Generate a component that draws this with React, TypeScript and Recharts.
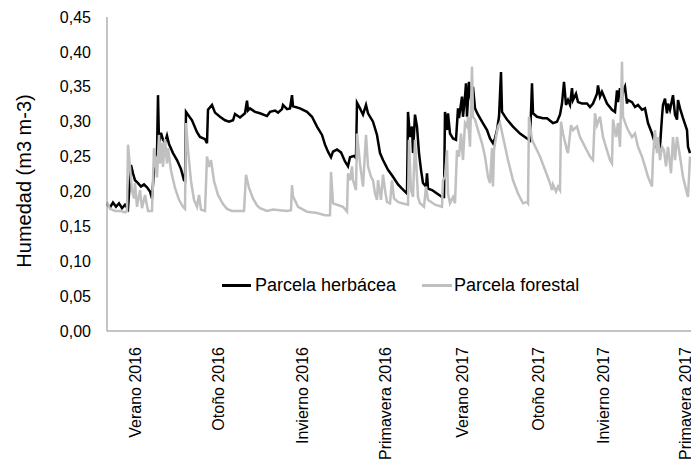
import React from 'react';
import { LineChart, Line, XAxis, YAxis, Legend } from 'recharts';

// [día desde el inicio, humedad m3/m3]
const herbacea: [number, number][] = [
  [0, 0.182], [3, 0.177], [6, 0.184], [9, 0.178], [12, 0.183], [15, 0.176], [18, 0.181], [21, 0.175],
  [24, 0.238], [26, 0.226], [28, 0.216], [31, 0.212], [34, 0.207], [37, 0.21], [40, 0.206], [43, 0.2],
  [45, 0.19], [48, 0.25], [50, 0.255], [51, 0.338], [52, 0.27], [54, 0.284], [56, 0.274], [58, 0.27],
  [60, 0.28], [62, 0.268], [66, 0.255], [70, 0.245], [74, 0.232], [77, 0.216], [78, 0.215], [79, 0.314],
  [85, 0.302], [90, 0.285], [93, 0.278], [98, 0.275], [100, 0.269], [101, 0.317], [105, 0.324], [108, 0.313],
  [113, 0.307], [118, 0.302], [122, 0.3], [126, 0.302], [128, 0.311], [133, 0.306], [138, 0.312], [140, 0.33],
  [141, 0.316], [143, 0.319], [148, 0.314], [153, 0.312], [160, 0.308], [163, 0.314], [168, 0.316], [171, 0.313],
  [175, 0.318], [176, 0.324], [180, 0.318], [183, 0.319], [185, 0.338], [186, 0.322], [193, 0.319], [200, 0.314],
  [205, 0.307], [210, 0.293], [215, 0.281], [218, 0.267], [221, 0.257], [224, 0.249], [226, 0.257], [230, 0.26],
  [234, 0.256], [238, 0.243], [241, 0.236], [243, 0.249], [247, 0.251], [249, 0.248], [250, 0.327], [253, 0.319],
  [256, 0.31], [259, 0.324], [261, 0.312], [266, 0.3], [270, 0.281], [273, 0.255], [276, 0.245], [281, 0.231],
  [286, 0.221], [291, 0.21], [295, 0.204], [300, 0.197], [301, 0.314], [303, 0.278], [305, 0.293], [306, 0.255],
  [308, 0.31], [310, 0.293], [312, 0.255], [314, 0.231], [316, 0.212], [319, 0.207], [320, 0.226], [321, 0.204],
  [325, 0.202], [330, 0.197], [335, 0.192], [337, 0.192], [338, 0.314], [340, 0.288], [341, 0.312], [343, 0.283],
  [346, 0.276], [349, 0.274], [351, 0.319], [352, 0.305], [355, 0.336], [356, 0.307], [358, 0.336], [359, 0.355],
  [360, 0.307], [362, 0.357], [364, 0.331], [366, 0.35], [368, 0.319], [371, 0.31], [375, 0.3], [380, 0.288],
  [383, 0.276], [386, 0.269], [388, 0.276], [390, 0.288], [392, 0.307], [394, 0.371], [395, 0.314], [400, 0.303],
  [406, 0.293], [413, 0.283], [420, 0.276], [423, 0.273], [425, 0.355], [426, 0.312], [430, 0.307], [436, 0.305],
  [440, 0.305], [446, 0.298], [450, 0.3], [453, 0.31], [455, 0.326], [457, 0.357], [459, 0.324], [461, 0.331],
  [463, 0.324], [465, 0.348], [466, 0.331], [469, 0.34], [471, 0.328], [475, 0.326], [480, 0.326], [483, 0.321],
  [486, 0.326], [490, 0.34], [491, 0.352], [493, 0.336], [495, 0.343], [500, 0.326], [505, 0.317], [508, 0.314],
  [510, 0.345], [511, 0.328], [513, 0.348], [515, 0.333], [516, 0.343], [518, 0.35], [520, 0.326], [521, 0.331],
  [525, 0.328], [528, 0.321], [531, 0.324], [535, 0.317], [538, 0.319], [541, 0.298], [545, 0.283], [548, 0.269],
  [551, 0.259], [553, 0.264], [555, 0.307], [556, 0.324], [558, 0.333], [560, 0.312], [561, 0.326], [563, 0.317],
  [566, 0.338], [568, 0.31], [570, 0.303], [571, 0.331], [573, 0.319], [576, 0.305], [580, 0.288], [581, 0.264],
  [583, 0.255],
];

const forestal: [number, number][] = [
  [0, 0.185], [3, 0.175], [8, 0.172], [14, 0.172], [18, 0.17], [20, 0.172], [21, 0.267], [23, 0.235],
  [25, 0.202], [27, 0.19], [28, 0.212], [30, 0.178], [33, 0.202], [35, 0.176], [38, 0.195], [41, 0.172],
  [45, 0.172], [47, 0.262], [49, 0.235], [50, 0.22], [52, 0.281], [53, 0.24], [55, 0.27], [56, 0.235],
  [58, 0.275], [60, 0.24], [61, 0.262], [64, 0.23], [68, 0.205], [72, 0.188], [76, 0.178], [78, 0.175],
  [79, 0.298], [81, 0.26], [84, 0.215], [87, 0.188], [90, 0.178], [92, 0.195], [94, 0.174], [98, 0.172],
  [100, 0.25], [102, 0.235], [104, 0.245], [107, 0.215], [111, 0.195], [116, 0.182], [120, 0.175], [125, 0.172],
  [130, 0.172], [137, 0.172], [139, 0.224], [142, 0.205], [146, 0.19], [150, 0.18], [153, 0.176], [160, 0.172],
  [166, 0.174], [173, 0.173], [180, 0.172], [184, 0.173], [185, 0.209], [186, 0.193], [191, 0.178], [200, 0.171],
  [210, 0.169], [218, 0.166], [223, 0.166], [224, 0.228], [226, 0.183], [230, 0.181], [236, 0.178], [240, 0.171],
  [241, 0.226], [243, 0.216], [245, 0.236], [246, 0.216], [249, 0.202], [250, 0.283], [253, 0.24], [256, 0.207],
  [259, 0.281], [261, 0.236], [264, 0.221], [266, 0.216], [268, 0.197], [270, 0.188], [271, 0.216], [274, 0.188],
  [276, 0.224], [278, 0.202], [280, 0.185], [283, 0.183], [285, 0.216], [287, 0.19], [291, 0.185], [295, 0.183],
  [301, 0.181], [302, 0.274], [304, 0.202], [306, 0.192], [308, 0.274], [311, 0.192], [313, 0.183], [317, 0.178],
  [319, 0.207], [321, 0.188], [328, 0.181], [335, 0.178], [336, 0.216], [338, 0.221], [340, 0.259], [341, 0.197],
  [343, 0.183], [346, 0.192], [348, 0.183], [350, 0.259], [352, 0.25], [354, 0.283], [356, 0.245], [358, 0.298],
  [360, 0.293], [361, 0.307], [363, 0.264], [365, 0.379], [366, 0.307], [368, 0.303], [371, 0.288], [375, 0.269],
  [378, 0.25], [381, 0.221], [383, 0.212], [385, 0.262], [386, 0.207], [387, 0.259], [389, 0.278], [391, 0.293],
  [393, 0.298], [396, 0.278], [401, 0.245], [406, 0.216], [411, 0.197], [416, 0.183], [420, 0.185], [421, 0.183],
  [422, 0.307], [425, 0.274], [430, 0.259], [433, 0.25], [438, 0.231], [443, 0.212], [445, 0.202], [446, 0.21],
  [449, 0.2], [451, 0.207], [453, 0.202], [454, 0.3], [456, 0.283], [460, 0.259], [461, 0.255], [464, 0.295],
  [466, 0.288], [470, 0.293], [473, 0.278], [478, 0.264], [483, 0.25], [486, 0.245], [488, 0.312], [490, 0.295],
  [493, 0.307], [496, 0.278], [500, 0.259], [503, 0.245], [505, 0.24], [506, 0.303], [509, 0.278], [511, 0.298],
  [513, 0.264], [515, 0.386], [516, 0.307], [519, 0.295], [521, 0.288], [525, 0.278], [528, 0.283], [531, 0.264],
  [535, 0.25], [538, 0.236], [541, 0.221], [545, 0.207], [546, 0.25], [548, 0.288], [550, 0.255], [551, 0.278],
  [553, 0.245], [555, 0.264], [557, 0.259], [559, 0.236], [561, 0.264], [564, 0.226], [566, 0.278], [568, 0.245],
  [570, 0.278], [573, 0.25], [576, 0.221], [580, 0.197], [581, 0.192], [583, 0.25],
];

const estaciones = [
  'Verano 2016', 'Otoño 2016', 'Invierno 2016', 'Primavera 2016',
  'Verano 2017', 'Otoño 2017', 'Invierno 2017', 'Primavera 2017',
];
const diasEstacion = [28, 111, 195, 278, 355, 431, 496, 578];
const ticksHumedad = [0, 0.05, 0.1, 0.15, 0.2, 0.25, 0.3, 0.35, 0.4, 0.45];

const FONT = '"Liberation Sans", Arial, sans-serif';
const AXIS = '#898989';

const herbData = herbacea.map(([dia, v]) => ({ dia, herb: v }));
const forData = forestal.map(([dia, v]) => ({ dia, forest: v }));

const SeasonTick = ({ x, y, payload }: any) => {
  const i = diasEstacion.indexOf(payload.value);
  const ty = y + 14;
  return (
    <text x={x} y={ty} dy="0.35em" transform={`rotate(-90, ${x}, ${ty})`}
      textAnchor="end" fontSize={16} fontFamily={FONT} fill="#000">
      {estaciones[i]}
    </text>
  );
};

const YTitle = ({ viewBox }: any) => {
  const cx = 24;
  const cy = viewBox.y + viewBox.height / 2 + 7;
  return (
    <text x={cx} y={cy} dy="0.35em" transform={`rotate(-90, ${cx}, ${cy})`}
      textAnchor="middle" fontSize={20} fontFamily={FONT} fill="#000">
      Humedad (m3 m-3)
    </text>
  );
};

const renderLegend = () => (
  <div style={{ display: 'flex', alignItems: 'center', fontFamily: FONT, fontSize: 18, color: '#000', whiteSpace: 'nowrap' }}>
    <span style={{ display: 'inline-block', width: 29, borderTop: '3px solid #000', marginRight: 4 }} />
    <span>Parcela herbácea</span>
    <span style={{ display: 'inline-block', width: 30, borderTop: '3px solid #c0c0c0', marginLeft: 26, marginRight: 2 }} />
    <span>Parcela forestal</span>
  </div>
);

export default function App() {
  return (
    <div style={{ position: 'absolute', left: 0, top: 0, background: '#fff' }}>
      <LineChart width={691} height={464} margin={{ top: 17, right: 0, bottom: 0, left: 0 }}>
        <XAxis type="number" dataKey="dia" domain={[0, 584]} ticks={diasEstacion} interval={0}
          tick={<SeasonTick />} tickLine={false} tickSize={0} axisLine={{ stroke: AXIS }}
          allowDuplicatedCategory={false} height={133} />
        <YAxis type="number" domain={[0, 0.45]} ticks={ticksHumedad} width={107} interval={0}
          tickFormatter={(v: number) => v.toFixed(2).replace('.', ',')}
          tick={{ fontSize: 16, fontFamily: FONT, fill: '#000' }}
          tickLine={false} tickSize={0} tickMargin={16} axisLine={{ stroke: AXIS }}
          label={<YTitle />} />
        <Legend layout="horizontal" verticalAlign="middle" content={renderLegend}
          wrapperStyle={{ position: 'absolute', left: 222, top: 275, width: 'auto' }} />
        <Line data={herbData} dataKey="herb" type="linear" stroke="#000" strokeWidth={2.5}
          dot={false} isAnimationActive={false} />
        <Line data={forData} dataKey="forest" type="linear" stroke="#c0c0c0" strokeWidth={2.5}
          dot={false} isAnimationActive={false} />
      </LineChart>
    </div>
  );
}
